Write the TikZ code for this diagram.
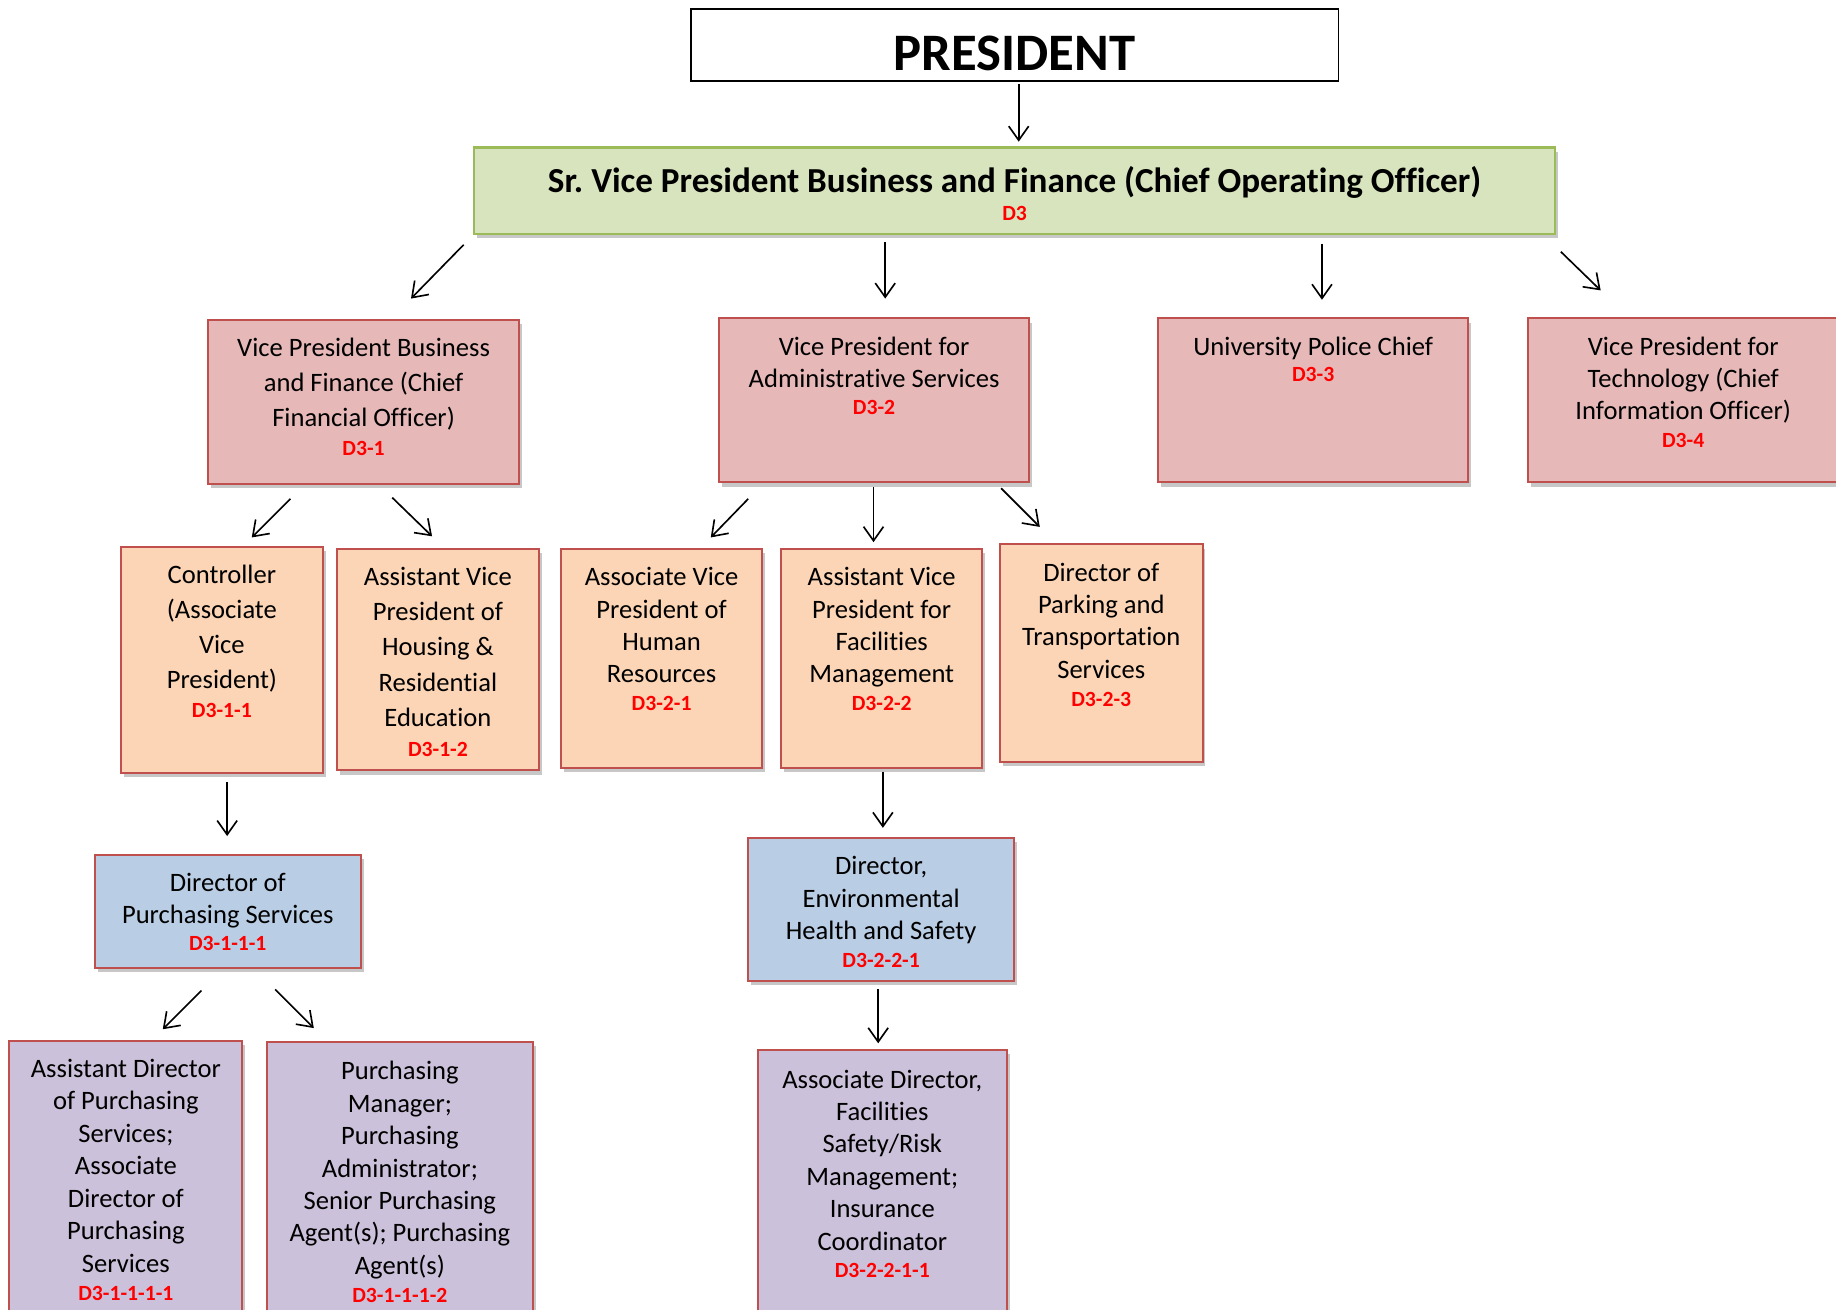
\documentclass[tikz,border=0pt]{standalone}
\usepackage{fontspec}
\setmainfont{Carlito}[Ligatures=NoCommon]
\frenchspacing
\usetikzlibrary{arrows.meta,shadows}
\definecolor{bred}{HTML}{C0504D}
\definecolor{gfill}{HTML}{D7E4BD}
\definecolor{gline}{HTML}{9BBB59}
\definecolor{pink}{HTML}{E6B9B8}
\definecolor{peach}{HTML}{FBD5B5}
\definecolor{lblue}{HTML}{B9CDE5}
\definecolor{lpurp}{HTML}{CCC1DA}
\definecolor{codered}{HTML}{FF0000}
\begin{document}
\begin{tikzpicture}[x=1pt,y=-1pt,
  shadowed/.style={drop shadow={shadow xshift=2.5pt,shadow yshift=-3.5pt,fill=black,opacity=0.22}},
  box/.style={draw=bred,line width=1.7pt,inner sep=0pt,shadowed},
  pinkbox/.style={box,fill=pink},
  peachbox/.style={box,fill=peach},
  bluebox/.style={box,fill=lblue},
  purpbox/.style={box,fill=lpurp},
  txtA/.style={anchor=north,inner sep=0pt,align=center,font=\fontsize{22.7}{30}\selectfont},
  txtB/.style={anchor=north,inner sep=0pt,align=center,font=\fontsize{22.7}{27.7}\selectfont},
  code/.style={inner sep=0pt,text=codered,font=\fontsize{18.5}{21}\selectfont\bfseries},
  arr/.style={line width=1.4pt,-{Straight Barb[length=12pt,width=17pt,line width=1.4pt]}}
]
\useasboundingbox[fill=white] (0,0) rectangle (1568,1118);

% top
\node[draw=black,line width=1.5pt,fill=white,minimum width=553pt,minimum height=61pt,inner sep=0pt] (pres) at (866.5,38.5) {};
\node[anchor=base,inner sep=0pt,font=\fontsize{45}{50}\selectfont\bfseries] (prest) at (866.5,60) {PRESIDENT};

\node[draw=gline,line width=1.8pt,fill=gfill,shadowed,minimum width=923pt,minimum height=74pt,inner sep=0pt] (srvp) at (866.5,163) {};
\node[anchor=base,inner sep=0pt,font=\fontsize{30}{34}\selectfont\bfseries] (srvpt) at (866.5,164) {Sr. Vice President Business and Finance (Chief Operating Officer)};
\node[code] (srvpc) at (866.5,182) {D3};

% row 2
\node[pinkbox,minimum width=265pt,minimum height=140pt] (vpbf) at (310.5,343) {};
\node[txtA] (vpbft) at (310.5,283) {\strut Vice President Business\\ and Finance (Chief\\ Financial Officer)};
\node[code] (vpbfc) at (310.5,383) {D3-1};

\node[pinkbox,minimum width=265pt,minimum height=140pt] (admin) at (746.5,342) {};
\node[txtB] (admint) at (746.5,283.6) {\strut Vice President for\\ Administrative Services};
\node[code] (adminc) at (746.5,348) {D3-2};

\node[pinkbox,minimum width=265pt,minimum height=140pt] (police) at (1121.5,342) {};
\node[txtB] (policet) at (1121.5,283.6) {\strut University Police Chief};
\node[code] (policec) at (1121.5,320) {D3-3};

\node[pinkbox,minimum width=265pt,minimum height=140pt] (tech) at (1437.5,342) {};
\node[txtB] (techt) at (1437.5,283.6) {\strut Vice President for\\ Technology (Chief\\ Information Officer)};
\node[code] (techc) at (1437.5,376) {D3-4};

% row 3
\node[peachbox,minimum width=173pt,minimum height=193pt] (ctrl) at (189.5,563.5) {};
\node[txtA] (ctrlt) at (189.5,477) {\strut Controller\\ (Associate\\ Vice\\ President)};
\node[code] (ctrlc) at (189.5,607) {D3-1-1};

\node[peachbox,minimum width=172pt,minimum height=189pt] (hous) at (374,563.5) {};
\node[txtA] (houst) at (374,479) {\strut Assistant Vice\\ President of\\ Housing \&\\ Residential\\ Education};
\node[code] (housc) at (374,640) {D3-1-2};

\node[peachbox,minimum width=172pt,minimum height=187pt] (hr) at (565,562.5) {};
\node[txtB] (hrt) at (565,480.6) {\strut Associate Vice\\ President of\\ Human\\ Resources};
\node[code] (hrc) at (565,601) {D3-2-1};

\node[peachbox,minimum width=172pt,minimum height=187pt] (fac) at (753,562.5) {};
\node[txtB] (fact) at (753,480.6) {\strut Assistant Vice\\ President for\\ Facilities\\ Management};
\node[code] (facc) at (753,601) {D3-2-2};

\node[peachbox,minimum width=173pt,minimum height=186pt] (park) at (940.5,558) {};
\node[txtB] (parkt) at (940.5,476.6) {\strut Director of\\ Parking and\\ Transportation\\ Services};
\node[code] (parkc) at (940.5,597) {D3-2-3};

% row 4
\node[bluebox,minimum width=227pt,minimum height=97pt] (dpur) at (194.5,778.5) {};
\node[txtB] (dpurt) at (194.5,741.6) {\strut Director of\\ Purchasing Services};
\node[code] (dpurc) at (194.5,806) {D3-1-1-1};

\node[bluebox,minimum width=227pt,minimum height=122pt] (ehs) at (752.5,777) {};
\node[txtB] (ehst) at (752.5,727.6) {\strut Director,\\ Environmental\\ Health and Safety};
\node[code] (ehsc) at (752.5,820) {D3-2-2-1};

% row 5
\node[purpbox,minimum width=199pt,minimum height=251pt] (asst) at (107.5,1014.5) {};
\node[txtB] (asstt) at (107.5,900.6) {\strut Assistant Director\\ of Purchasing\\ Services;\\ Associate\\ Director of\\ Purchasing\\ Services};
\node[code] (asstc) at (107.5,1105) {D3-1-1-1-1};

\node[purpbox,minimum width=227pt,minimum height=250pt] (pmgr) at (341.5,1015) {};
\node[txtB] (pmgrt) at (341.5,902.6) {\strut Purchasing\\ Manager;\\ Purchasing\\ Administrator;\\ Senior Purchasing\\ Agent(s); Purchasing\\ Agent(s)};
\node[code] (pmgrc) at (341.5,1106) {D3-1-1-1-2};

\node[purpbox,minimum width=213pt,minimum height=243pt] (assoc) at (753.5,1018.5) {};
\node[txtB] (assoct) at (753.5,909.6) {\strut Associate Director,\\ Facilities\\ Safety/Risk\\ Management;\\ Insurance\\ Coordinator};
\node[code] (assocc) at (753.5,1085) {D3-2-2-1-1};

% arrow end points
\coordinate (a1s) at (870,72);   \coordinate (a1e) at (870,121);
\coordinate (a2s) at (396,209);  \coordinate (a2e) at (351,255);
\coordinate (a3s) at (756,207);  \coordinate (a3e) at (756,255);
\coordinate (a4s) at (1129,208); \coordinate (a4e) at (1129,256);
\coordinate (a5s) at (1333,215); \coordinate (a5e) at (1367,248);
\coordinate (a6s) at (248,426);  \coordinate (a6e) at (215,459);
\coordinate (a7s) at (335,425);  \coordinate (a7e) at (369,458);
\coordinate (a8s) at (639,426);  \coordinate (a8e) at (607,459);
\coordinate (a9s) at (746,416);  \coordinate (a9e) at (746,463);
\coordinate (a10s) at (855,417); \coordinate (a10e) at (888,450);
\coordinate (a11s) at (194,668); \coordinate (a11e) at (194,714);
\coordinate (a12s) at (754,659); \coordinate (a12e) at (754,707);
\coordinate (a13s) at (172,846); \coordinate (a13e) at (139,879);
\coordinate (a14s) at (235,845); \coordinate (a14e) at (268,878);
\coordinate (a15s) at (750,845); \coordinate (a15e) at (750,891);

\foreach \i in {1,...,15} {\draw[arr] (a\i s) -- (a\i e);}
\end{tikzpicture}
\end{document}
